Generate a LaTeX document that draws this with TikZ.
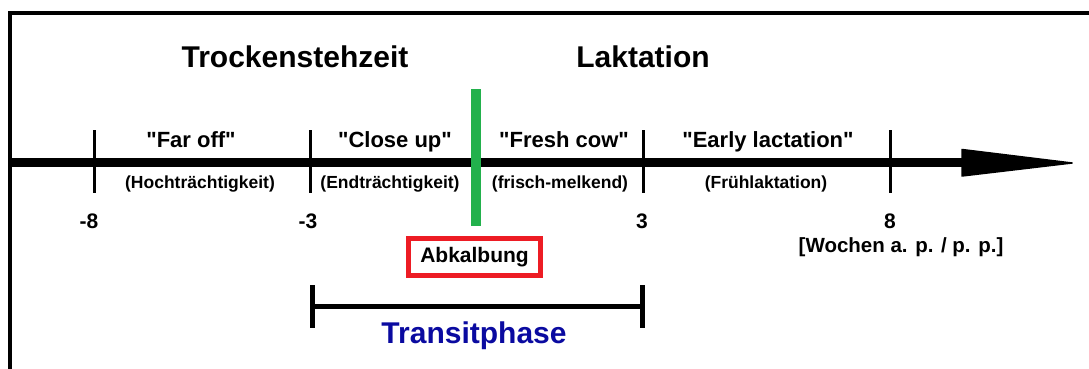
\documentclass[tikz,border=0pt]{standalone}
\usepackage{fontspec}
\setmainfont{Liberation Sans}[Ligatures=TeXOff]
\definecolor{paintgreen}{RGB}{34,177,76}
\definecolor{paintred}{RGB}{237,28,36}
\definecolor{transblue}{RGB}{10,10,160}
\tikzset{
  lbl/.style={inner sep=0pt, anchor=base},
  head/.style={lbl, font=\fontsize{30}{36}\selectfont\bfseries},
  phase/.style={lbl, font=\fontsize{22}{26}\selectfont\bfseries},
  sub/.style={lbl, font=\fontsize{17.5}{21}\selectfont\bfseries},
  num/.style={lbl, font=\fontsize{21}{25}\selectfont\bfseries},
  tickline/.style={line width=3pt},
  brk/.style={line width=5pt},
}
\begin{document}
\begin{tikzpicture}[x=1pt,y=-1pt]
\useasboundingbox (0,0) rectangle (1089,369);
% frame
\coordinate (fTL) at (10,13);
\coordinate (fTR) at (1089,13);
\coordinate (fBL) at (10,369);
\draw[line width=4pt] (fBL) -- (fTL) -- (fTR);
% axis
\coordinate (ax0) at (10,162);
\coordinate (ax1) at (962,162);
\draw[line width=9pt] (ax0) -- (ax1);
\fill[line join=round, line width=1pt] (962,149.5) -- (1072,163) -- (962,176) -- cycle;
\draw[line join=round, line width=1.5pt] (962,149.5) -- (1072,163) -- (962,176) -- cycle;
% ticks
\foreach \n/\x in {tA/94, tB/310, tC/643, tD/890}{
  \coordinate (\n top) at (\x,130);
  \coordinate (\n bot) at (\x,193);
  \draw[tickline] (\n top) -- (\n bot);
}
% green birth line
\coordinate (gTop) at (475.5,89);
\coordinate (gBot) at (475.5,226);
\draw[paintgreen, line width=10pt] (gTop) -- (gBot);
% headings
\node[head] (trocken) at (295,67) {Trockenstehzeit};
\node[head] (lakt) at (643,67) {Laktation};
% phase labels
\node[phase] (far) at (191,147) {"Far off"};
\node[phase] (close) at (395,147) {"Close up"};
\node[phase] (fresh) at (564,147) {"Fresh cow"};
\node[phase] (early) at (768,147) {"Early lactation"};
% sub labels
\node[sub] (hoch) at (200,188) {(Hochträchtigkeit)};
\node[sub] (end) at (390,188) {(Endträchtigkeit)};
\node[sub] (frisch) at (560,188) {(frisch-melkend)};
\node[sub] (frueh) at (766,188) {(Frühlaktation)};
% numbers
\node[num] (m8) at (89,228) {-8};
\node[num] (m3) at (308,228) {-3};
\node[num] (p3) at (642,228) {3};
\node[num] (p8) at (890,228) {8};
\node[lbl, font=\fontsize{20.5}{25}\selectfont\bfseries] (unit) at (901,252) {[Wochen a. p. / p. p.]};
% Abkalbung box
\node[draw=paintred, line width=5pt, minimum width=132pt, minimum height=37pt, inner sep=0pt,
      font=\fontsize{21}{25}\selectfont\bfseries] (abk) at (474.5,257) {Abkalbung};
% transit bracket
\coordinate (bL) at (312,306);
\coordinate (bR) at (642,306);
\coordinate (bLt) at (312,285);
\coordinate (bLb) at (312,328);
\coordinate (bRt) at (642,285);
\coordinate (bRb) at (642,328);
\draw[brk] (bL) -- (bR);
\draw[brk] (bLt) -- (bLb);
\draw[brk] (bRt) -- (bRb);
\node[head, text=transblue] (transit) at (474,343) {Transitphase};
\end{tikzpicture}
\end{document}
